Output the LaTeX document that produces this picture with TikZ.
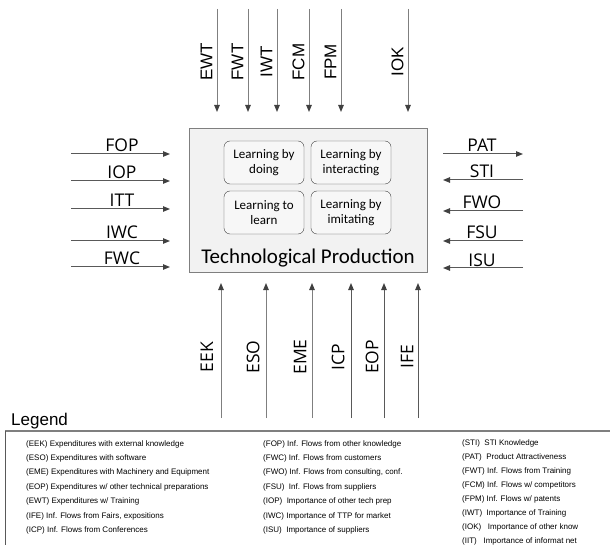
\documentclass[tikz,border=0pt]{standalone}
\usepackage{fontspec}
\setmainfont{Liberation Sans}
\newfontfamily\calfont{Carlito}
\newfontfamily\segfont{Open Sans}
\usetikzlibrary{arrows.meta}
\definecolor{linegray}{HTML}{7F7F7F}
\definecolor{darkline}{HTML}{595959}
\definecolor{tipgray}{HTML}{404040}
\definecolor{boxfill}{HTML}{F2F2F2}
\definecolor{boxedge}{HTML}{7F7F7F}
\begin{document}
\begin{tikzpicture}[x=1pt,y=-1pt,
  arr/.style={draw=linegray, line width=1pt, -{Triangle[length=7pt,width=5.5pt,color=tipgray]}},
  darr/.style={arr, draw=darkline},
  toplab/.style={rotate=90, inner sep=0pt, font=\fontsize{17}{20}\selectfont},
  botlab/.style={rotate=90, inner sep=0pt, font=\segfont\fontsize{17.5}{20}\selectfont},
  sidelab/.style={anchor=base, inner sep=0pt, font=\segfont\fontsize{17.5}{20}\selectfont},
  learnbox/.style={draw=tipgray, fill=boxfill!60!white, rounded corners=6pt, minimum width=80pt, minimum height=43pt, inner sep=0pt, align=center, font=\calfont\fontsize{13}{15.5}\selectfont},
  legtext/.style={anchor=base west, inner sep=0pt, font=\fontsize{8}{9}\selectfont}
]
\useasboundingbox (0,0) rectangle (610,545);

% main box
\node[draw=boxedge, fill=boxfill, line width=0.8pt, minimum width=238pt, minimum height=144pt, inner sep=0pt] (tp) at (308,200) {};
\node[anchor=base, inner sep=0pt, font=\calfont\fontsize{21}{24}\selectfont] (tptext) at (308,264) {Technological Production};
\node[learnbox] (lbd) at (264,162.5) {Learning by\\doing};
\node[learnbox] (lbi) at (351,162.5) {Learning by\\interacting};
\node[learnbox] (ltl) at (264,212.5) {Learning to\\learn};
\node[learnbox] (lbm) at (351,212.5) {Learning by\\imitating};

% top arrows
\foreach \x/\t [count=\i] in {217/EWT,248/FWT,277/IWT,309/FCM,341/FPM,408/IOK}{
  \coordinate (ts\i) at (\x,9);
  \coordinate (te\i) at (\x,112);
  \draw[arr] (ts\i) -- (te\i);
  \node[toplab] (tl\i) at (\x-10.5,62) {\t};
}

% bottom arrows
\foreach \x/\t/\lx/\s [count=\i] in {221/EEK/207/arr,266/ESO/253/arr,312/EME/300/arr,351/ICP/338/darr,384/EOP/372/darr,418/IFE/407/darr}{
  \coordinate (bs\i) at (\x,418);
  \coordinate (be\i) at (\x,283);
  \draw[\s] (bs\i) -- (be\i);
  \node[botlab] (bl\i) at (\lx,357) {\t};
}

% left arrows
\foreach \y/\t [count=\i] in {154/FOP,181/IOP,209/ITT,241/IWC,267/FWC}{
  \coordinate (ls\i) at (71,\y);
  \coordinate (le\i) at (170,\y);
  \draw[darr] (ls\i) -- (le\i);
  \node[sidelab] (ll\i) at (122,\y-2) {\t};
}

% right arrows
\coordinate (rs1) at (443,154);
\coordinate (re1) at (523,154);
\draw[darr] (rs1) -- (re1);
\node[sidelab] (rl1) at (482,152) {PAT};
\foreach \y/\t [count=\i from 2] in {180/STI,211/FWO,241/FSU,268/ISU}{
  \coordinate (rs\i) at (523,\y);
  \coordinate (re\i) at (443,\y);
  \draw[darr] (rs\i) -- (re\i);
  \node[sidelab] (rl\i) at (482,\y-2) {\t};
}

% legend
\node[anchor=base west, inner sep=0pt, font=\fontsize{17}{20}\selectfont] (legtitle) at (11,425) {Legend};
\draw[draw=linegray, line width=1.2pt] (610,431) -- (5,431);
\draw[draw=darkline, line width=0.8pt] (5,431) -- (5,545);

\foreach \t [count=\i from 0] in {
  (EEK) Expenditures with external knowledge,
  (ESO) Expenditures with software,
  (EME) Expenditures with Machinery and Equipment,
  (EOP) Expenditures w/ other technical preparations,
  (EWT) Expenditures w/ Training,
  (IFE) Inf. Flows from Fairs{,} expositions,
  (ICP) Inf. Flows from Conferences}{
  \node[legtext] (lga\i) at (26,446+14.4*\i) {\t};
}
\foreach \t [count=\i from 0] in {
  (FOP) Inf. Flows from other knowledge,
  (FWC) Inf. Flows from customers,
  (FWO) Inf. Flows from consulting{,} conf.,
  (FSU)\ \ Inf. Flows from suppliers,
  (IOP)\ \ Importance of other tech prep,
  (IWC) Importance of TTP for market,
  (ISU)\ \ Importance of suppliers}{
  \node[legtext] (lgb\i) at (263,446+14.4*\i) {\t};
}
\foreach \t [count=\i from 0] in {
  (STI)\ \ STI Knowledge,
  (PAT)\ \ Product Attractiveness,
  (FWT) Inf. Flows from Training,
  (FCM) Inf. Flows w/ competitors,
  (FPM) Inf. Flows w/ patents,
  (IWT)\ \ Importance of Training,
  (IOK)\ \ \ Importance of other know,
  (IIT)\ \ \ Importance of informat net}{
  \node[legtext] (lgc\i) at (462,445.5+14*\i) {\t};
}
\end{tikzpicture}
\end{document}
